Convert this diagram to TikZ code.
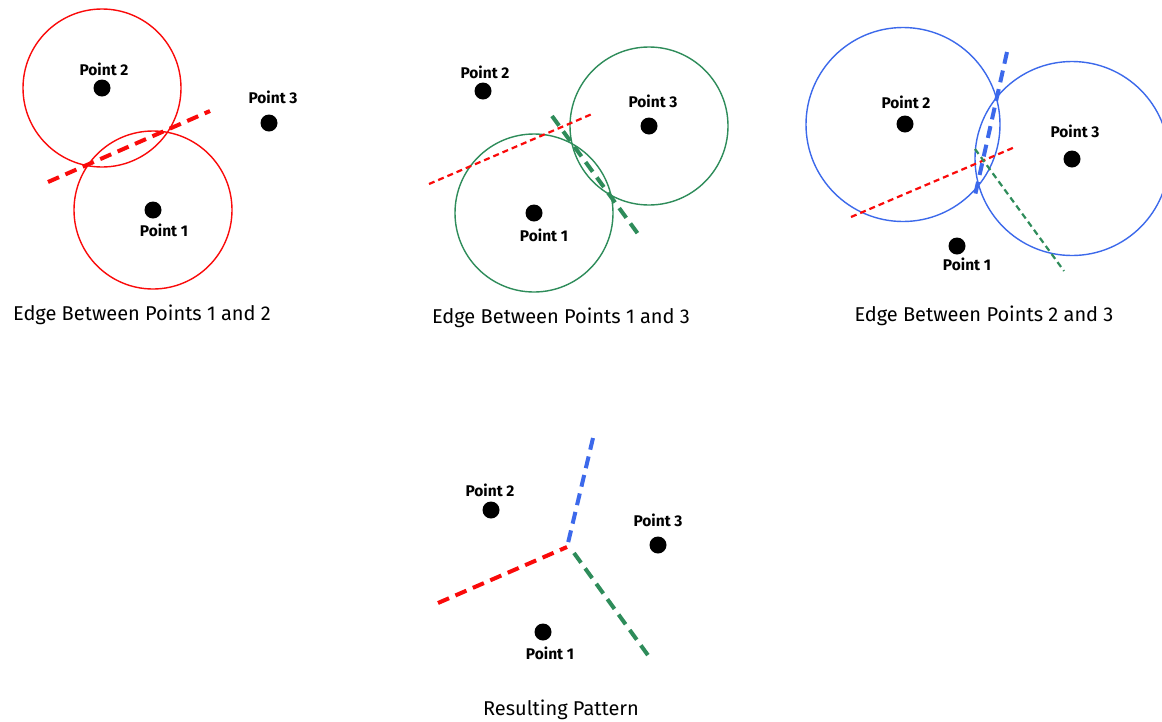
\documentclass[tikz,border=0pt]{standalone}
\usepackage{fontspec}
\setmainfont{Fira Sans}
\begin{document}
\begin{tikzpicture}[x=1pt,y=-1pt,
  dot/.style={circle,fill=black,inner sep=0pt,minimum size=17pt},
  lbl/.style={font=\bfseries\fontsize{15.5}{18}\selectfont,inner sep=0pt},
  captext/.style={font=\fontsize{20}{24}\selectfont,inner sep=0pt},
  ring/.style={line width=1.4pt},
  thickdash/.style={line width=4pt,dash pattern=on 12pt off 7pt},
  thindash/.style={line width=2.2pt,dash pattern=on 6pt off 4pt}]
\definecolor{vred}{RGB}{250,10,10}
\definecolor{vgreen}{RGB}{46,140,90}
\definecolor{vblue}{RGB}{60,105,235}
\useasboundingbox (0,0) rectangle (1162,721);
\fill[white] (0,0) rectangle (1162,721);

% ---------- Panel 1 ----------
\node[dot] (a2) at (102,88) {};
\node[dot] (a3) at (269,123) {};
\node[dot] (a1) at (153,210) {};
\node[lbl] (la2) at (104,69) {Point 2};
\node[lbl] (la3) at (273,97) {Point 3};
\node[lbl] (la1) at (164,230) {Point 1};
\draw[vred,ring] (a2) circle[radius=79];
\draw[vred,ring] (a1) circle[radius=79];
\coordinate (ae1) at (48,182);
\coordinate (ae2) at (210,111);
\draw[vred,thickdash] (ae1) -- (ae2);
\node[captext] (ca) at (142,315) {Edge Between Points 1 and 2};

% ---------- Panel 2 ----------
\node[dot] (b2) at (483,91) {};
\node[dot] (b3) at (649,126) {};
\node[dot] (b1) at (534,213) {};
\node[lbl] (lb2) at (485,72) {Point 2};
\node[lbl] (lb3) at (653,101) {Point 3};
\node[lbl] (lb1) at (544,235) {Point 1};
\draw[vgreen,ring] (b1) circle[radius=79];
\draw[vgreen,ring] (b3) circle[radius=79];
\coordinate (br1) at (429,184);
\coordinate (br2) at (592,114);
\draw[vred,thindash] (br1) -- (br2);
\coordinate (bg1) at (552,116);
\coordinate (bg2) at (641,238);
\draw[vgreen,thickdash] (bg1) -- (bg2);
\node[captext] (cb) at (561,318) {Edge Between Points 1 and 3};

% ---------- Panel 3 ----------
\node[dot] (c2) at (905,124) {};
\node[dot] (c3) at (1072,159) {};
\node[dot] (c1) at (957,246) {};
\node[lbl] (lc2) at (906,102) {Point 2};
\node[lbl] (lc3) at (1075,131) {Point 3};
\node[lbl] (lc1) at (967,264) {Point 1};
\draw[vblue,ring] (903,124.5) circle[radius=97];
\draw[vblue,ring] (1072,158.5) circle[radius=97];
\coordinate (cr1) at (851,217);
\coordinate (cr2) at (1015,147);
\draw[vred,thindash] (cr1) -- (cr2);
\coordinate (cg1) at (975,149);
\coordinate (cg2) at (1064,271);
\draw[vgreen,thindash] (cg1) -- (cg2);
\coordinate (cb1) at (1007,52);
\coordinate (cb2) at (974,200);
\draw[vblue,thickdash] (cb1) -- (cb2);
\node[captext] (cc) at (984,316) {Edge Between Points 2 and 3};

% ---------- Panel 4 ----------
\node[dot] (d2) at (491,510) {};
\node[dot] (d3) at (658,545) {};
\node[dot] (d1) at (543,632) {};
\node[lbl] (ld2) at (490,490) {Point 2};
\node[lbl] (ld3) at (658,520) {Point 3};
\node[lbl] (ld1) at (550,653) {Point 1};
\coordinate (dj) at (567,547);
\coordinate (djb) at (568,543);
\coordinate (djg) at (574,553);
\coordinate (dr) at (438,603);
\coordinate (db) at (593,438);
\coordinate (dg) at (650,658);
\draw[vred,thickdash] (dr) -- (dj);
\draw[vblue,thickdash] (db) -- (djb);
\draw[vgreen,thickdash] (djg) -- (dg);
\node[captext] (cd) at (561,710) {Resulting Pattern};
\end{tikzpicture}
\end{document}
